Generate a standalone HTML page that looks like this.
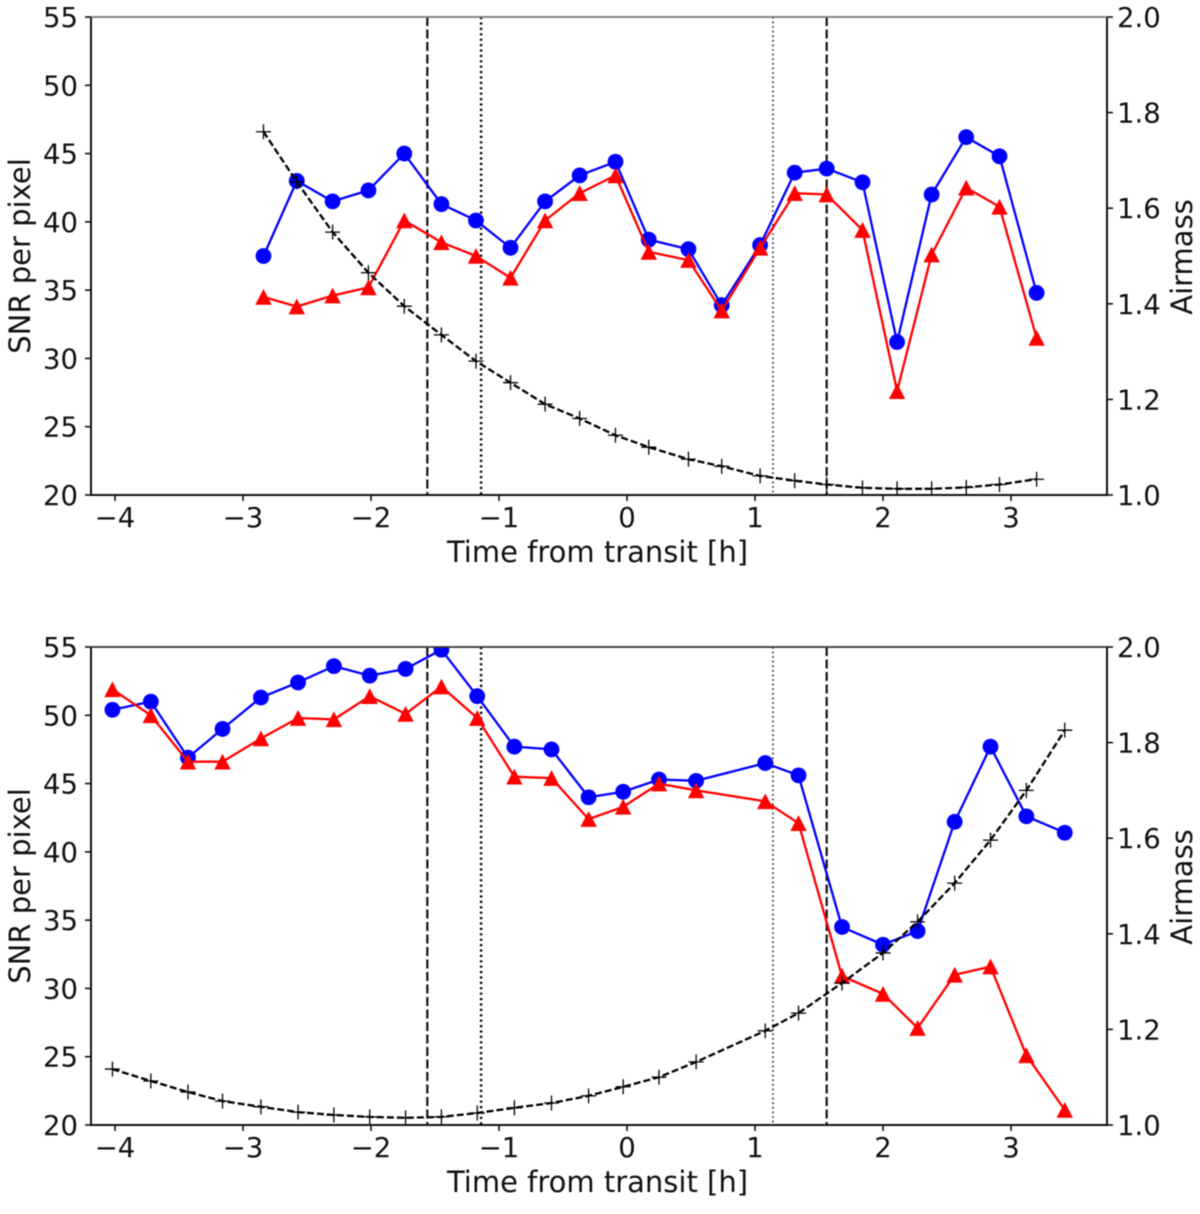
<!DOCTYPE html>
<html>
<head>
<meta charset="utf-8">
<title>SNR per pixel and airmass versus time from transit</title>
<style>
html,body{margin:0;padding:0;background:#fff;}
svg{display:block;filter:blur(0.45px);}
text{font-family:"DejaVu Sans","Liberation Sans",sans-serif;fill:#111;}
.tick{font-size:27.5px;}
.title{font-size:29px;}
</style>
</head>
<body>
<svg id="figure" width="1200" height="1214" viewBox="0 0 1200 1214" xmlns="http://www.w3.org/2000/svg">
  <rect width="1200" height="1214" fill="#fff"/>
  <defs>
    <clipPath id="clip-top"><rect x="91" y="17" width="1016" height="478"/></clipPath>
    <clipPath id="clip-bottom"><rect x="91" y="647" width="1016" height="478"/></clipPath>
  </defs>
  <g id="panel-top">
    <text class="title" x="597.5" y="562" text-anchor="middle">Time from transit [h]</text>
    <text class="title" transform="translate(30,256) rotate(-90)" text-anchor="middle">SNR per pixel</text>
    <text class="title" transform="translate(1192,257) rotate(-90)" text-anchor="middle">Airmass</text>
  </g>
  <g id="panel-bottom">
    <text class="title" x="597.5" y="1192" text-anchor="middle">Time from transit [h]</text>
    <text class="title" transform="translate(30,886) rotate(-90)" text-anchor="middle">SNR per pixel</text>
    <text class="title" transform="translate(1192,887) rotate(-90)" text-anchor="middle">Airmass</text>
  </g>
</svg>
<script>
// Shared axis tick values
const xTicks = [-4, -3, -2, -1, 0, 1, 2, 3];
const snrTicks = [20, 25, 30, 35, 40, 45, 50, 55];
const airmassTicks = [1.0, 1.2, 1.4, 1.6, 1.8, 2.0];
// Contact times of the transit (hours)
const dashedTimes = [-1.56, 1.56];
const dottedTimes = [-1.14, 1.14];

// Top panel data
const topTimes = [-2.84, -2.58, -2.30, -2.02, -1.74, -1.45, -1.18, -0.91, -0.64, -0.37, -0.09, 0.17, 0.48, 0.74, 1.04, 1.31, 1.56, 1.84, 2.11, 2.38, 2.65, 2.91, 3.20];
const topBlue = [37.5, 43.0, 41.5, 42.3, 45.0, 41.3, 40.1, 38.1, 41.5, 43.4, 44.4, 38.7, 38.0, 33.9, 38.3, 43.6, 43.9, 42.9, 31.2, 42.0, 46.2, 44.8, 34.8];
const topRed = [34.5, 33.8, 34.6, 35.2, 40.1, 38.5, 37.5, 35.9, 40.1, 42.1, 43.4, 37.8, 37.2, 33.5, 38.1, 42.1, 42.0, 39.4, 27.6, 37.6, 42.5, 41.1, 31.5];
const topAirmass = [1.76, 1.655, 1.55, 1.465, 1.395, 1.335, 1.28, 1.235, 1.19, 1.16, 1.125, 1.10, 1.075, 1.06, 1.04, 1.03, 1.022, 1.015, 1.013, 1.013, 1.016, 1.022, 1.033];

// Bottom panel data
const bottomTimes = [-4.02, -3.72, -3.43, -3.16, -2.86, -2.57, -2.29, -2.01, -1.73, -1.45, -1.17, -0.88, -0.59, -0.30, -0.03, 0.25, 0.54, 1.08, 1.34, 1.68, 2.00, 2.27, 2.56, 2.84, 3.12, 3.42];
const bottomBlue = [50.4, 51.0, 46.9, 49.0, 51.3, 52.4, 53.6, 52.9, 53.4, 54.8, 51.4, 47.7, 47.5, 44.0, 44.4, 45.3, 45.2, 46.5, 45.6, 34.5, 33.2, 34.2, 42.2, 47.7, 42.6, 41.4];
const bottomRed = [51.9, 50.0, 46.6, 46.6, 48.3, 49.8, 49.7, 51.4, 50.1, 52.1, 49.8, 45.5, 45.4, 42.4, 43.3, 45.0, 44.5, 43.7, 42.1, 30.9, 29.6, 27.1, 31.0, 31.6, 25.1, 21.1];
const bottomAirmass = [1.117, 1.092, 1.069, 1.05, 1.038, 1.027, 1.021, 1.017, 1.015, 1.017, 1.025, 1.036, 1.046, 1.061, 1.08, 1.10, 1.132, 1.197, 1.234, 1.297, 1.36, 1.425, 1.506, 1.596, 1.70, 1.826];

const NS = 'http://www.w3.org/2000/svg';

function node(parent, tag, attrs) {
  const el = document.createElementNS(NS, tag);
  for (const k in attrs) el.setAttribute(k, attrs[k]);
  parent.appendChild(el);
  return el;
}

function drawPanel(prefix, groupId, clipId, top, times, blue, red, airmass) {
  const left = 91, right = 1107, height = 478, bottom = top + height;
  const group = document.getElementById(groupId);
  const xPos = t => 627 + 128 * t;
  const ySnr = v => bottom - (v - 20) / 35 * height;
  const yAir = v => bottom - (v - 1) * height;
  const pts = (xs, ys, f) => xs.map((t, i) => xPos(t).toFixed(1) + ',' + f(ys[i]).toFixed(1)).join(' ');

  const plot = node(group, 'g', {'clip-path': 'url(#' + clipId + ')'});
  
  

  dashedTimes.forEach(t => {
    const l = node(plot, 'line', {x1: xPos(t), x2: xPos(t), y1: top, y2: bottom, stroke: '#111', 'stroke-width': 2.2, 'stroke-dasharray': '9 3.5'});
    
    
  });
  dottedTimes.forEach(t => {
    const l = node(plot, 'line', {x1: xPos(t), x2: xPos(t), y1: top, y2: bottom, stroke: '#000', 'stroke-width': t < 0 ? 2.4 : 1.4, 'stroke-dasharray': t < 0 ? '2.2 3.2' : '1.6 3'});
    
    
  });

  const blueLine = node(plot, 'polyline', {points: pts(times, blue, ySnr), fill: 'none', stroke: '#0000ff', 'stroke-width': 2.3});
  
  
  times.forEach((t, i) => {
    const c = node(plot, 'circle', {cx: xPos(t), cy: ySnr(blue[i]), r: 7.9, fill: '#0000ff'});
    
    
  });

  const redLine = node(plot, 'polyline', {points: pts(times, red, ySnr), fill: 'none', stroke: '#ff0000', 'stroke-width': 2.3});
  
  
  times.forEach((t, i) => {
    const x = xPos(t), y = ySnr(red[i]);
    const p = node(plot, 'polygon', {points: x + ',' + (y - 8) + ' ' + (x - 8.2) + ',' + (y + 7.8) + ' ' + (x + 8.2) + ',' + (y + 7.8), fill: '#ff0000'});
    
    
  });

  const airLine = node(plot, 'polyline', {points: pts(times, airmass, yAir), fill: 'none', stroke: '#000', 'stroke-width': 2.3, 'stroke-dasharray': '7 3'});
  
  
  times.forEach((t, i) => {
    const x = xPos(t), y = yAir(airmass[i]);
    const m = node(plot, 'path', {d: 'M' + (x - 7.5) + ' ' + y + 'H' + (x + 7.5) + 'M' + x + ' ' + (y - 7.5) + 'V' + (y + 7.5), fill: 'none', stroke: '#000', 'stroke-width': 1.3});
    
    
  });

  const spines = node(group, 'path', {d: 'M' + left + ' ' + top + 'V' + bottom + 'H' + right + 'V' + top, fill: 'none', stroke: '#111', 'stroke-width': 2});
  
  
  const topSpine = node(group, 'line', {x1: left, x2: right, y1: top, y2: top, stroke: top < 100 ? '#777' : '#333', 'stroke-width': 1.8});
  
  

  xTicks.forEach(v => {
    const x = xPos(v);
    const mark = node(group, 'line', {x1: x, x2: x, y1: bottom, y2: bottom + 6, stroke: '#111', 'stroke-width': 1.6});
    
    
    const label = node(group, 'text', {x: x, y: bottom + 32, 'text-anchor': 'middle', class: 'tick'});
    
    
    label.textContent = v < 0 ? '\u2212' + Math.abs(v) : String(v);
  });

  snrTicks.forEach(v => {
    const y = ySnr(v);
    const mark = node(group, 'line', {x1: left - 6, x2: left, y1: y, y2: y, stroke: '#111', 'stroke-width': 1.6});
    
    
    const label = node(group, 'text', {x: 78, y: y + 10, 'text-anchor': 'end', class: 'tick'});
    
    
    label.textContent = String(v);
  });

  airmassTicks.forEach(v => {
    const y = yAir(v);
    const mark = node(group, 'line', {x1: right, x2: right + 6, y1: y, y2: y, stroke: '#111', 'stroke-width': 1.6});
    
    
    const label = node(group, 'text', {x: 1117, y: y + 10, class: 'tick'});
    
    
    label.textContent = v.toFixed(1);
  });
}

drawPanel('top', 'panel-top', 'clip-top', 17, topTimes, topBlue, topRed, topAirmass);
drawPanel('bottom', 'panel-bottom', 'clip-bottom', 647, bottomTimes, bottomBlue, bottomRed, bottomAirmass);
</script>
</body>
</html>
